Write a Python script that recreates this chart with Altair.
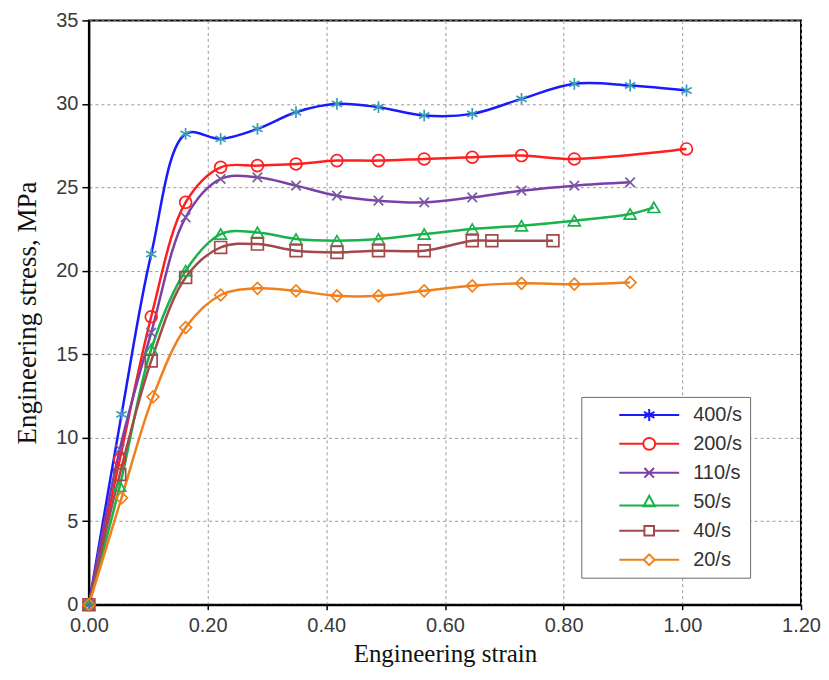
import altair as alt
import pandas as pd

series = ["400/s", "200/s", "110/s", "50/s", "40/s", "20/s"]
line_colors = ["#1a1aff", "#ff1f1f", "#7a40a8", "#19b24b", "#a24a4a", "#f0801e"]
marker_colors = ["#3a9cb8", "#ff1f1f", "#7a5aa0", "#19b24b", "#a24a4a", "#f0801e"]

strain_400 = [0, 0.055, 0.105, 0.163, 0.222, 0.284, 0.349, 0.418, 0.488, 0.565, 0.646, 0.729, 0.818, 0.912, 1.007]
stress_400 = [0, 11.4, 21.0, 28.2, 27.9, 28.5, 29.5, 30.0, 29.8, 29.3, 29.4, 30.3, 31.2, 31.1, 30.8]

strain_200 = [0, 0.052, 0.105, 0.163, 0.222, 0.284, 0.349, 0.418, 0.488, 0.565, 0.646, 0.729, 0.818, 1.007]
stress_200 = [0, 8.7, 17.25, 24.1, 26.2, 26.3, 26.4, 26.6, 26.6, 26.7, 26.8, 26.9, 26.7, 27.3]

strain_110 = [0, 0.052, 0.105, 0.163, 0.222, 0.284, 0.349, 0.418, 0.488, 0.565, 0.646, 0.729, 0.818, 0.912]
stress_110 = [0, 9.3, 16.3, 23.2, 25.5, 25.6, 25.1, 24.5, 24.2, 24.1, 24.4, 24.8, 25.1, 25.3]

strain_50 = [0, 0.052, 0.105, 0.163, 0.222, 0.284, 0.349, 0.418, 0.488, 0.565, 0.646, 0.729, 0.818, 0.912, 0.952]
stress_50 = [0, 7.1, 15.3, 20.0, 22.2, 22.3, 21.9, 21.8, 21.9, 22.2, 22.5, 22.7, 23.0, 23.4, 23.8]

strain_40 = [0, 0.052, 0.105, 0.163, 0.222, 0.284, 0.349, 0.418, 0.488, 0.565, 0.646, 0.679, 0.782]
stress_40 = [0, 7.8, 14.6, 19.6, 21.4, 21.6, 21.2, 21.1, 21.2, 21.2, 21.8, 21.8, 21.8]

strain_20 = [0, 0.055, 0.108, 0.163, 0.222, 0.284, 0.349, 0.418, 0.488, 0.565, 0.646, 0.729, 0.818, 0.912]
stress_20 = [0, 6.4, 12.45, 16.6, 18.55, 18.95, 18.8, 18.5, 18.5, 18.8, 19.1, 19.25, 19.2, 19.3]

x_ticks = [0, 0.2, 0.4, 0.6, 0.8, 1.0, 1.2]
y_ticks = [0, 5, 10, 15, 20, 25, 30, 35]

# marker shapes (plot) and legend shapes (line + marker)
marker_shapes = [
    "M0,-1L0,1M-0.87,-0.5L0.87,0.5M-0.87,0.5L0.87,-0.5",
    "circle",
    "M-0.8,-0.8L0.8,0.8M-0.8,0.8L0.8,-0.8",
    "triangle-up",
    "square",
    "diamond",
]
legend_shapes = [
    "M-5,0L5,0M0,-1L0,1M-0.87,-0.5L0.87,0.5M-0.87,0.5L0.87,-0.5",
    "M-5,0L-1,0M1,0L5,0M-1,0A1,1,0,1,0,1,0A1,1,0,1,0,-1,0",
    "M-5,0L5,0M-0.8,-0.8L0.8,0.8M-0.8,0.8L0.8,-0.8",
    "M-5,0.6L5,0.6M0,-1L0.95,0.75L-0.95,0.75Z",
    "M-5,0L-0.8,0M0.8,0L5,0M-0.8,-0.8L0.8,-0.8L0.8,0.8L-0.8,0.8Z",
    "M-5,0L-0.9,0M0.9,0L5,0M0,-0.9L0.9,0L0,0.9L-0.9,0Z",
]

rows = []
for i, (name, xs, ys) in enumerate([
    ("400/s", strain_400, stress_400),
    ("200/s", strain_200, stress_200),
    ("110/s", strain_110, stress_110),
    ("50/s", strain_50, stress_50),
    ("40/s", strain_40, stress_40),
    ("20/s", strain_20, stress_20),
]):
    for xv, yv in zip(xs, ys):
        rows.append({"series": name, "order": i, "strain": xv, "stress": yv})
df = pd.DataFrame(rows)

serif = "Liberation Serif"
sans = "Liberation Sans"

x_enc = alt.X(
    "strain:Q",
    scale=alt.Scale(domain=[0, 1.2], nice=False, zero=False),
    axis=alt.Axis(values=x_ticks, format=".2f", title="Engineering strain", labelFlush=False),
)
y_enc = alt.Y(
    "stress:Q",
    scale=alt.Scale(domain=[0, 35], nice=False),
    axis=alt.Axis(values=y_ticks, format="d", title="Engineering stress, MPa", labelFlush=False),
)

base = alt.Chart(df)

lines = base.mark_line(interpolate="catmull-rom", strokeWidth=2.5).encode(
    x=x_enc,
    y=y_enc,
    color=alt.Color("series:N", scale=alt.Scale(domain=series, range=line_colors), legend=None),
    order=alt.Order("strain:Q"),
)

points = base.mark_point(filled=False, size=140, strokeWidth=1.7, opacity=1).encode(
    x=x_enc,
    y=y_enc,
    color=alt.Color("series:N", scale=alt.Scale(domain=series, range=marker_colors), legend=None),
    shape=alt.Shape("series:N", scale=alt.Scale(domain=series, range=marker_shapes), legend=None),
    order=alt.Order("order:Q"),
)

legend_layer = base.transform_filter("datum.strain < -1").mark_point(
    filled=False, size=144, strokeWidth=2, opacity=1
).encode(
    x=x_enc,
    y=y_enc,
    color=alt.Color(
        "series:N",
        scale=alt.Scale(domain=series, range=line_colors),
        legend=alt.Legend(
            orient="none", legendX=493, legendY=377, title=None, direction="vertical",
            symbolSize=144, symbolStrokeWidth=2, symbolOffset=50, labelOffset=34,
            labelFont=sans, labelFontSize=20, labelColor="#333333",
            strokeColor="#6a6a6a", fillColor="white", padding=8, rowPadding=9,
        ),
    ),
    shape=alt.Shape("series:N", scale=alt.Scale(domain=series, range=legend_shapes)),
)

chart = (
    alt.layer(lines, points, legend_layer)
    .resolve_scale(color="independent", shape="independent")
    .properties(width=713, height=585, padding={"left": 5, "top": 2, "right": 0, "bottom": 0})
    .configure_view(stroke="black", strokeWidth=2)
    .configure_axis(
        labelFont=sans, labelFontSize=20, labelColor="#3a3a3a",
        titleFont=serif, titleFontSize=27, titleFontWeight="normal", titleColor="#111111",
        domainColor="black", domainWidth=2, tickColor="black", tickWidth=1.5, tickSize=5,
        grid=True, gridColor="#999999", gridDash=[3, 3], gridWidth=1, labelPadding=4,
    )
    .configure_axisX(titlePadding=6, labelPadding=6, titleFontSize=25)
    .configure_axisY(titlePadding=14, tickSize=7)
)

chart.save("out.html", embed_options={"renderer": "svg", "actions": False})
